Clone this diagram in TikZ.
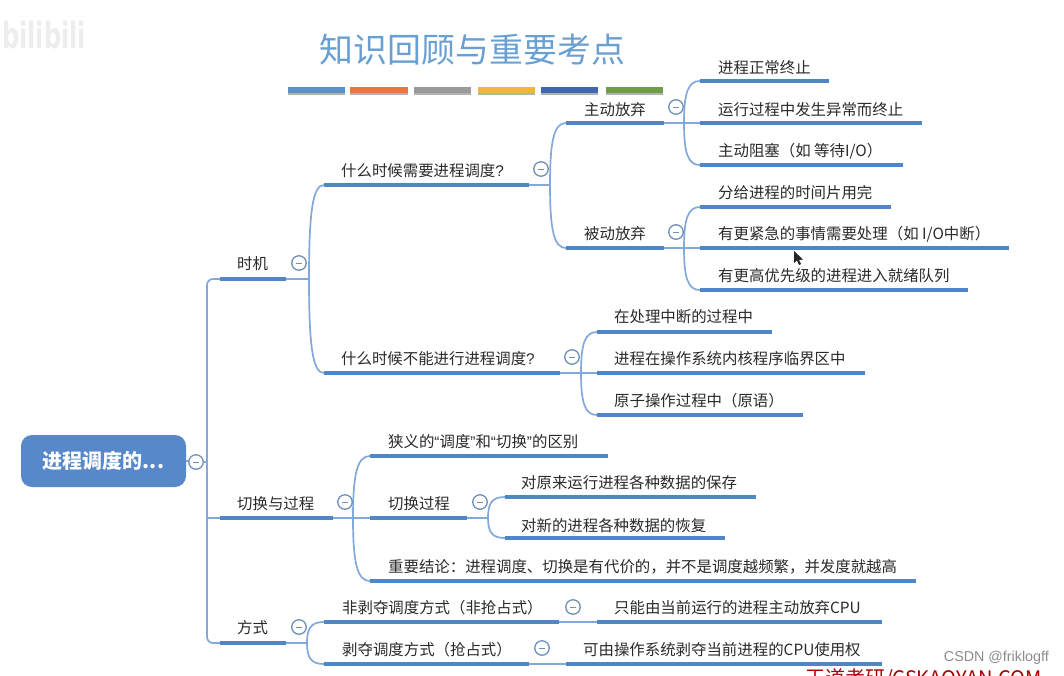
\documentclass[tikz,border=0pt]{standalone}
\usepackage{fontspec}
\setmainfont{Noto Sans CJK SC}
\newfontfamily\latinf{Liberation Sans}
\newfontfamily\wmf{DejaVu Sans}
\usetikzlibrary{calc,shadows}
\definecolor{barblue}{HTML}{4F86C6}
\definecolor{linkblue}{HTML}{82A9DA}
\definecolor{rootblue}{HTML}{5788CA}
\definecolor{titleblue}{HTML}{6A9FD2}
\definecolor{txt}{HTML}{2A2A2A}
\definecolor{swa}{HTML}{5B93C9}
\definecolor{swb}{HTML}{DF7B3F}
\definecolor{swc}{HTML}{9A9A9A}
\definecolor{swd}{HTML}{F0B440}
\definecolor{swe}{HTML}{3F66B0}
\definecolor{swf}{HTML}{6F9E47}
\tikzset{
  x=1pt,y=-1pt,
  link/.style={draw=linkblue,line width=1.7pt},
  barnode/.style={fill=barblue,inner sep=0pt,minimum height=4.2pt,anchor=west},
  toptext/.style={anchor=west,inner sep=0pt,yshift=-0.8pt,text=txt,font=\fontsize{15.42}{18}\selectfont},
  togglenode/.style={circle,draw=linkblue!85!black,line width=1.3pt,fill=white,minimum size=14.5pt,inner sep=0pt},
  swatch/.style={inner sep=0pt,minimum height=6pt,anchor=west,drop shadow={shadow xshift=0pt,shadow yshift=-2pt,opacity=.3,fill=black}},
}
\newcommand\topic[7]{%
  \node[barnode,minimum width=\the\numexpr #3-#2\relax pt] (#1) at (#2,#4) {};
  \node[toptext] (#1-t) at (#5,#6) {#7};}
\newcommand\toggle[3]{%
  \node[togglenode] (#1) at (#2,#3) {};
  \draw[linkblue!85!black,line width=1pt] ($(#1.center)+(-3,0)$) -- ($(#1.center)+(3,0)$);}
\newcommand\fork[2]{%
  \draw[link] (#1) .. controls ($(#1)!0.72!(#1|-#2.west)$) and ($(#1|-#2.west)!0.25!(#2.west)$) .. (#2.west);}
\newcommand\qq[1]{{\latinf #1}}
\begin{document}
\begin{tikzpicture}
\useasboundingbox (0,0) rectangle (1064,675);
\fill[white] (0,0) rectangle (1064,675);

% watermark top-left
\node[inner sep=0pt,text=black!7,yscale=1.5,font=\wmf\bfseries\fontsize{24}{28}\selectfont] (wm) at (44,35) {bilibili};

% title
\node[inner sep=0pt,text=titleblue,font=\fontsize{33.9}{38}\selectfont] (title) at (472.5,50) {知识回顾与重要考点};

% colour bars
\node[swatch,fill=swa,minimum width=57pt] (s1) at (288,90) {};
\node[swatch,fill=swb,minimum width=58pt] (s2) at (350,90) {};
\node[swatch,fill=swc,minimum width=57pt] (s3) at (414,90) {};
\node[swatch,fill=swd,minimum width=57pt] (s4) at (478,90) {};
\node[swatch,fill=swe,minimum width=57pt] (s5) at (541,90) {};
\node[swatch,fill=swf,minimum width=57pt] (s6) at (606,90) {};

% fork points
\coordinate (frt) at (207,462);
\coordinate (fa) at (309,279);
\coordinate (fa1) at (550,185);
\coordinate (fa11) at (684,123);
\coordinate (fa12) at (684,248);
\coordinate (fa2) at (581,373);
\coordinate (fb) at (353,518);
\coordinate (fb2) at (488,518);
\coordinate (fc) at (307,643);

% root
\node[fill=rootblue,rounded corners=11pt,minimum width=165pt,minimum height=52pt,inner sep=0pt,text=white,font=\bfseries\fontsize{20}{22}\selectfont] (root) at (103.5,461) {\raisebox{-1.5pt}{进程调度的...}};

% topics
\topic{a}{220}{286}{279}{237}{263}{时机}
\topic{b}{220}{333}{518}{237}{503}{切换与过程}
\topic{c}{220}{286}{643}{237}{627}{方式}

\topic{a1}{324}{529}{185}{341}{170}{什么时候需要进程调度\qq{?}}
\topic{a2}{324}{560}{373}{341}{358}{什么时候不能进行进程调度\qq{?}}
\topic{a11}{566}{664}{123}{584}{109}{主动放弃}
\topic{a12}{566}{664}{248}{584}{233}{被动放弃}
\topic{l1}{700}{829}{81}{718}{67}{进程正常终止}
\topic{l2}{700}{922}{123}{718}{109}{运行过程中发生异常而终止}
\topic{l3}{700}{903}{165}{718}{150}{主动阻塞（如 等待I/O）}
\topic{l4}{700}{891}{207}{718}{192}{分给进程的时间片用完}
\topic{l5}{700}{1009}{248}{718}{233}{有更紧急的事情需要处理（如 I/O中断）}
\topic{l6}{700}{968}{290}{718}{275}{有更高优先级的进程进入就绪队列}
\topic{m1}{597}{772}{332}{614}{316}{在处理中断的过程中}
\topic{m2}{597}{865}{373}{614}{358}{进程在操作系统内核程序临界区中}
\topic{m3}{597}{803}{415}{614}{400}{原子操作过程中（原语）}

\topic{b1}{370}{608}{456}{388}{441}{狭义的\qq{“}调度\qq{”}和\qq{“}切换\qq{”}的区别}
\topic{b2}{370}{467}{518}{388}{503}{切换过程}
\topic{b3}{370}{916}{581}{388}{566}{重要结论：进程调度、切换是有代价的，并不是调度越频繁，并发度就越高}
\topic{b21}{505}{756}{497}{521}{482}{对原来运行进程各种数据的保存}
\topic{b22}{505}{725}{538}{521}{525}{对新的进程各种数据的恢复}

\topic{c1}{324}{559}{622}{342}{607}{非剥夺调度方式（非抢占式）}
\topic{c2}{324}{529}{664}{342}{649}{剥夺调度方式（抢占式）}
\topic{c11}{597}{882}{622}{614}{607}{只能由当前运行的进程主动放弃CPU}
\topic{c21}{566}{882}{664}{583}{649}{可由操作系统剥夺当前进程的CPU使用权}

% connectors
\draw[link] (root.east) -- (frt);
\draw[link,rounded corners=6pt] (frt) -- (frt|-a.west) -- (a.west);
\draw[link,rounded corners=6pt] (frt) -- (frt|-c.west) -- (c.west);
\draw[link] (frt|-b.west) -- (b.west);
\draw[link] (a.east) -- (fa); \fork{fa}{a1} \fork{fa}{a2}
\draw[link] (a1.east) -- (fa1); \fork{fa1}{a11} \fork{fa1}{a12}
\draw[link] (a11.east) -- (l2.west); \fork{fa11}{l1} \fork{fa11}{l3}
\draw[link] (a12.east) -- (l5.west); \fork{fa12}{l4} \fork{fa12}{l6}
\draw[link] (a2.east) -- (m2.west); \fork{fa2}{m1} \fork{fa2}{m3}
\draw[link] (b.east) -- (b2.west); \fork{fb}{b1} \fork{fb}{b3}
\draw[link] (b2.east) -- (fb2); \fork{fb2}{b21} \fork{fb2}{b22}
\draw[link] (c.east) -- (fc); \fork{fc}{c1} \fork{fc}{c2}
\draw[link] (c1.east) -- (c11.west);
\draw[link] (c2.east) -- (c21.west);

% toggles
\toggle{troot}{196}{462}
\toggle{ta}{299}{263}
\toggle{tb}{345}{502}
\toggle{tc}{299}{627}
\toggle{ta1}{541}{169}
\toggle{ta2}{572}{357}
\toggle{ta11}{676}{107}
\toggle{ta12}{676}{232}
\toggle{tb2}{480}{502}
\toggle{tc1}{573}{607}
\toggle{tc2}{542}{648}

% mouse cursor
\fill[black!85] (794,251) -- (794,263) -- (797,260.5) -- (799,265) -- (801,264) -- (799,260) -- (803,259.5) -- cycle;

% watermarks
\node[anchor=east,inner sep=0pt,text=black!45,font=\latinf\fontsize{14.3}{16}\selectfont] (csdn) at (1049,658) {CSDN @friklogff};
\node[anchor=west,inner sep=0pt,text=red!65!black,font=\fontsize{20}{22}\selectfont] (wd) at (805,679) {王道考研/CSKAOYAN.COM};
\end{tikzpicture}
\end{document}
